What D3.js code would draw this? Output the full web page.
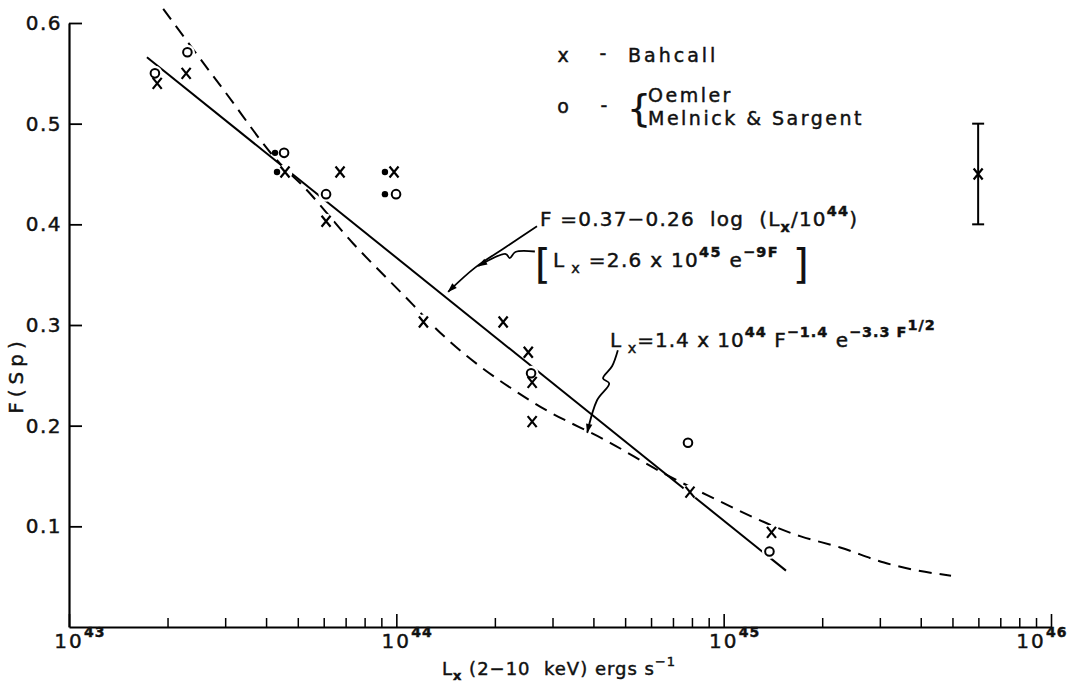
<!DOCTYPE html>
<html>
<head>
<meta charset="utf-8">
<script src="https://cdn.jsdelivr.net/npm/d3@7"></script>
<style>
  body { margin: 0; background: #fff; }
  text { white-space: pre; fill: #111; stroke: #111; stroke-width: 0.45px; }
</style>
</head>
<body>
<div id="chart"></div>
<script>
// values: [Lx (erg/s), F(Sp)]
const bahcall = [
  [1.86e43, 0.54], [2.28e43, 0.55], [4.57e43, 0.452], [6.1e43, 0.403],
  [6.73e43, 0.452], [9.84e43, 0.452], [1.21e44, 0.303], [2.12e44, 0.303],
  [2.53e44, 0.273], [2.6e44, 0.243], [2.6e44, 0.204], [7.89e44, 0.134],
  [1.4e45, 0.094]
]
const oemlerMelnick = [
  [1.83e43, 0.55], [2.3e43, 0.571], [4.54e43, 0.471], [6.1e43, 0.43],
  [9.98e43, 0.43], [2.58e44, 0.252], [7.78e44, 0.183], [1.38e45, 0.075]
]
// small filled dots drawn just left of some points
const limitDots = [[4.26e43, 0.471], [4.32e43, 0.452], [9.23e43, 0.452], [9.23e43, 0.43]]

// solid fit, F = 0.37 - 0.26 log(Lx/1e44): end points as drawn
const solidFit = [[1.73e43, 0.566], [1.55e45, 0.056]]
// dashed fit, Lx = 1.4e44 F^-1.4 e^(-3.3 F^1/2)
const dashedFit = [
  [1.94e43, 0.614], [2.96e43, 0.534], [4.51e43, 0.457], [5.08e43, 0.441],
  [7.38e43, 0.381], [1.125e44, 0.32], [1.27e44, 0.302], [2.62e44, 0.223],
  [4.5e44, 0.183], [6.53e44, 0.153], [8.9e44, 0.131], [1.72e45, 0.09],
  [2.27e45, 0.079], [3.09e45, 0.064], [3.93e45, 0.056], [4.95e45, 0.051]
]
// typical error bar
const errorBar = { L: 5.99e45, F: 0.45, lo: 0.40, hi: 0.50 }

const xMajor = [1e43, 1e44, 1e45, 1e46]
const xExponents = ["43", "44", "45", "46"]
const yTicks = [0.1, 0.2, 0.3, 0.4, 0.5, 0.6]

// leader lines of the annotations, in data units
const leaderA = [[2.69e44, 0.398], [2.15e44, 0.377], [1.74e44, 0.357], [1.44e44, 0.333]]
const leaderB = [[2.65e44, 0.373], [2.31e44, 0.3725], [2.22e44, 0.3665], [2.16e44, 0.3705], [1.78e44, 0.3586]]
const leaderC = [[4.75e44, 0.275], [4.56e44, 0.259], [4.28e44, 0.247], [4.47e44, 0.242], [4.1e44, 0.225], [3.83e44, 0.193]]

const width = 1079, height = 695
const font = "DejaVu Sans"

const svg = d3.select("#chart").append("svg")
  .attr("width", width)
  .attr("height", height)
  .style("font-family", font)

const x = d3.scaleLog().domain([1e43, 1e46]).range([69, 1051])
const y = d3.scaleLinear().domain([0, 0.6]).range([627, 23])

svg.append("defs").append("marker")
  .attr("id", "head")
  .attr("viewBox", "0 -5 12 10")
  .attr("refX", 11).attr("refY", 0)
  .attr("markerWidth", 12).attr("markerHeight", 8)
  .attr("markerUnits", "userSpaceOnUse")
  .attr("orient", "auto")
  .append("path").attr("d", "M0,-4L12,0L0,4Z").attr("fill", "#000")

// ---- axes
const minor = x.ticks().filter(d => !xMajor.includes(d))

svg.append("g")
  .attr("transform", `translate(0,${y(0)})`)
  .call(d3.axisBottom(x).tickValues(xMajor).tickSize(-13).tickSizeOuter(0).tickFormat(""))
  .call(g => g.select(".domain").attr("stroke-width", 2.2))
  .call(g => g.selectAll(".tick line").attr("stroke-width", 1.6))

svg.append("g")
  .attr("transform", `translate(0,${y(0)})`)
  .call(d3.axisBottom(x).tickValues(minor).tickSize(-9).tickFormat(""))
  .call(g => g.select(".domain").remove())
  .call(g => g.selectAll(".tick line").attr("stroke-width", 1.5))

svg.append("g")
  .attr("transform", `translate(${x(1e43)},0)`)
  .call(d3.axisLeft(y).tickValues(yTicks).tickSize(-13).tickSizeOuter(0).tickPadding(7)
    .tickFormat(d3.format(".1f")))
  .call(g => g.select(".domain").attr("stroke-width", 2.2))
  .call(g => g.selectAll(".tick line").attr("stroke-width", 1.8))
  .call(g => g.selectAll(".tick text")
    .attr("font-family", font).attr("font-size", 20)
    .attr("letter-spacing", 1.5))

// x tick labels 10^n
xMajor.forEach((v, i) => {
  const cx = Math.min(x(v), width - 48)
  svg.append("text")
    .attr("x", cx).attr("y", 648)
    .attr("text-anchor", "middle")
    .attr("font-size", 20).attr("letter-spacing", 2)
    .text("10")
  svg.append("text")
    .attr("x", cx + 15).attr("y", 637)
    .attr("font-size", 14).attr("font-weight", "bold")
    .attr("letter-spacing", 1)
    .text(xExponents[i])
})

// rich text with sub/superscripts
const rich = (x0, y0, parts, size, spacing) => {
  const t = svg.append("text")
    .attr("x", x0).attr("y", y0)
    .attr("font-size", size)
    .attr("letter-spacing", spacing)
  let cur = 0
  parts.forEach(([s, lvl, bold]) => {
    const off = { 0: 0, 1: -0.5, 2: -0.85, "-1": 0.3 }[lvl] * size
    t.append("tspan")
      .attr("dy", off - cur)
      .attr("font-size", lvl === 0 ? size : size * 0.72)
      .attr("font-weight", bold ? "bold" : "normal")
      .text(s)
    cur = off
  })
  return t
}

// axis titles
rich(442, 675, [["L", 0], ["x", -1, true], [" (2\u221210  keV) ergs s", 0], ["\u22121", 1]], 18, 1)

svg.append("text")
  .attr("transform", `translate(23,375) rotate(-90)`)
  .attr("text-anchor", "middle")
  .attr("font-size", 20).attr("letter-spacing", 5)
  .text("F(Sp)")

// ---- curves
svg.append("path")
  .attr("d", d3.line().x(d => x(d[0])).y(d => y(d[1])).curve(d3.curveMonotoneX)(dashedFit))
  .attr("fill", "none").attr("stroke", "#000")
  .attr("stroke-width", 2).attr("stroke-dasharray", "13,8")

svg.append("path")
  .attr("d", d3.line().x(d => x(d[0])).y(d => y(d[1]))(solidFit))
  .attr("fill", "none").attr("stroke", "#000").attr("stroke-width", 2)

// ---- points: white knockouts under each marker break the lines like the original
const allPts = bahcall.concat(oemlerMelnick)
svg.append("g").selectAll("circle")
  .data(allPts)
  .join("circle")
  .attr("cx", d => x(d[0])).attr("cy", d => y(d[1]))
  .attr("r", 7.5).attr("fill", "#fff")

svg.append("g").selectAll("path")
  .data(bahcall)
  .join("path")
  .attr("transform", d => `translate(${x(d[0])},${y(d[1])})`)
  .attr("d", "M-4.5,-5.5L4.5,5.5M4.5,-5.5L-4.5,5.5")
  .attr("stroke", "#000").attr("stroke-width", 2.2)

svg.append("g").selectAll("circle")
  .data(oemlerMelnick)
  .join("circle")
  .attr("cx", d => x(d[0])).attr("cy", d => y(d[1]))
  .attr("r", 4.3)
  .attr("fill", "none").attr("stroke", "#000").attr("stroke-width", 2)

svg.append("g").selectAll("circle")
  .data(limitDots)
  .join("circle")
  .attr("cx", d => x(d[0])).attr("cy", d => y(d[1]))
  .attr("r", 3.2).attr("fill", "#000")

// error bar
const eb = svg.append("g").attr("stroke", "#000").attr("stroke-width", 2)
eb.append("line")
  .attr("x1", x(errorBar.L)).attr("x2", x(errorBar.L))
  .attr("y1", y(errorBar.hi)).attr("y2", y(errorBar.lo))
;[errorBar.hi, errorBar.lo].forEach(v => {
  eb.append("line")
    .attr("x1", x(errorBar.L) - 6).attr("x2", x(errorBar.L) + 6)
    .attr("y1", y(v)).attr("y2", y(v))
})
eb.append("path")
  .attr("transform", `translate(${x(errorBar.L)},${y(errorBar.F)})`)
  .attr("d", "M-4.5,-5.5L4.5,5.5M4.5,-5.5L-4.5,5.5")
  .attr("stroke-width", 2.2)

// ---- legend
svg.append("text").attr("x", 563).attr("y", 62).attr("text-anchor", "middle")
  .attr("font-size", 19).text("x")
svg.append("text").attr("x", 603).attr("y", 60).attr("text-anchor", "middle")
  .attr("font-size", 19).text("-")
svg.append("text").attr("x", 628).attr("y", 62)
  .attr("font-size", 19).attr("letter-spacing", 3).text("Bahcall")
svg.append("text").attr("x", 563).attr("y", 113).attr("text-anchor", "middle")
  .attr("font-size", 19).text("o")
svg.append("text").attr("x", 604).attr("y", 112).attr("text-anchor", "middle")
  .attr("font-size", 19).text("-")
svg.append("text").attr("x", 627).attr("y", 121)
  .attr("font-size", 38).style("stroke-width", "0.2px").text("{")
svg.append("text").attr("x", 648).attr("y", 102)
  .attr("font-size", 19).attr("letter-spacing", 2.5).text("Oemler")
svg.append("text").attr("x", 648).attr("y", 125)
  .attr("font-size", 19).attr("letter-spacing", 2.5).text("Melnick & Sargent")

// ---- formula annotations
rich(540, 226, [["F =0.37\u22120.26  log  (L", 0], ["x", -1, true], ["/10", 0], ["44", 1, true], [")", 0]], 20, 1.2)

svg.append("text").attr("x", 535).attr("y", 278).attr("font-size", 40).style("stroke-width", "0.2px").text("[")
rich(553, 267, [["L", 0], [" x", -1], [" =2.6 x 10", 0], ["45", 1, true], [" e", 0], ["\u22129F", 1, true]], 20, 1.3)
svg.append("text").attr("x", 793).attr("y", 278).attr("font-size", 40).style("stroke-width", "0.2px").text("]")

rich(610, 347, [["L", 0], [" x", -1], ["=1.4 x 10", 0], ["44", 1, true], [" F", 0], ["\u22121.4", 1, true],
  [" e", 0], ["\u22123.3 F", 1, true], ["1/2", 2, true]], 20, 1)

// leaders
const leader = d3.line().x(d => x(d[0])).y(d => y(d[1])).curve(d3.curveCatmullRom)
;[leaderA, leaderB, leaderC].forEach(pts => {
  svg.append("path")
    .attr("d", leader(pts))
    .attr("fill", "none").attr("stroke", "#000").attr("stroke-width", 1.8)
    .attr("marker-end", "url(#head)")
})
</script>
</body>
</html>
